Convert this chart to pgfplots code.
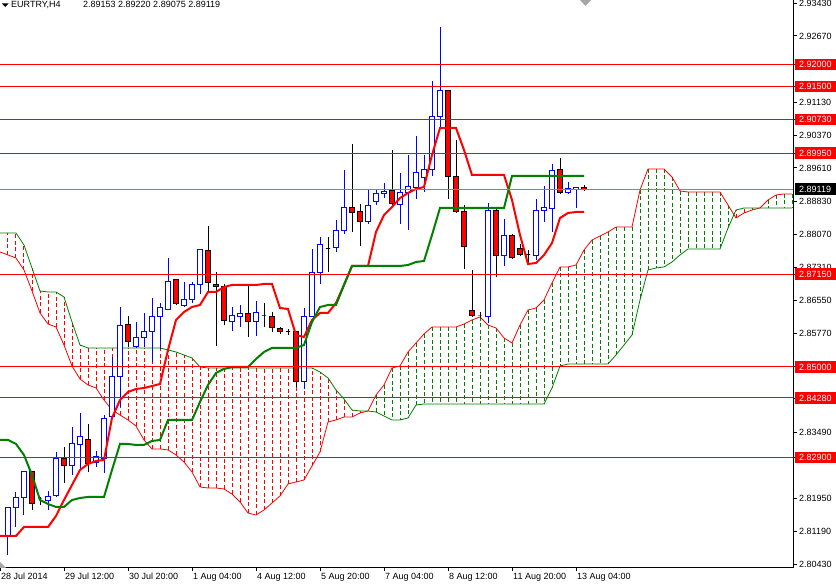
\documentclass[border=0pt]{standalone}
\usepackage{fontspec}
\setmainfont{Liberation Sans}
\usepackage{pgfplots}
\usepackage{pgfplotstable}
\pgfplotsset{compat=1.18}

\definecolor{mtred}{RGB}{255,0,0}
\definecolor{mtgreen}{RGB}{0,128,0}
\definecolor{mtblue}{RGB}{0,0,255}
\definecolor{bidgray}{RGB}{119,136,153}

% EURTRY H4 candles: bar index, open, high, low, close
\pgfplotstableread{
i o h l c
0 2.81081 2.81174 2.80988 2.81081
1 2.81081 2.81753 2.80641 2.81730
2 2.81730 2.82100 2.81289 2.81961
3 2.81961 2.82587 2.81567 2.82564
4 2.82564 2.82587 2.81683 2.81822
5 2.81938 2.81985 2.81799 2.81938
6 2.81903 2.82124 2.81683 2.81985
7 2.82008 2.83027 2.81985 2.82865
8 2.82865 2.83143 2.82309 2.82703
9 2.82703 2.83606 2.82494 2.83213
10 2.83189 2.83931 2.82610 2.83375
11 2.83305 2.83676 2.82564 2.82749
12 2.82772 2.83050 2.82680 2.82911
13 2.82865 2.83884 2.82541 2.83792
14 2.83838 2.85228 2.83792 2.84765
15 2.84765 2.86387 2.84070 2.85947
16 2.85970 2.86178 2.85460 2.85576
17 2.85460 2.86039 2.85437 2.85669
18 2.85669 2.86248 2.85460 2.85808
19 2.85808 2.86595 2.85112 2.86155
20 2.86155 2.86479 2.85414 2.86364
21 2.86340 2.87522 2.86317 2.86966
22 2.87012 2.87036 2.86433 2.86456
23 2.86410 2.86966 2.86387 2.86549
24 2.86549 2.86966 2.86479 2.86897
25 2.86897 2.87731 2.86688 2.87708
26 2.87684 2.88264 2.86734 2.86943
27 2.86908 2.87198 2.85483 2.86862
28 2.86850 2.86920 2.85970 2.86062
29 2.86039 2.86387 2.85831 2.86178
30 2.86155 2.86433 2.85923 2.86225
31 2.86225 2.86873 2.85692 2.86039
32 2.86039 2.86526 2.85715 2.86248
33 2.86201 2.86479 2.85923 2.86201
34 2.86155 2.86271 2.85808 2.85900
35 2.85877 2.85923 2.85761 2.85808
36 2.85808 2.85877 2.85738 2.85808
37 2.85808 2.85831 2.84533 2.84649
38 2.84649 2.86364 2.84487 2.86155
39 2.86155 2.87731 2.86155 2.87175
40 2.87175 2.88009 2.86920 2.87823
41 2.87731 2.88009 2.87198 2.87731
42 2.87754 2.88403 2.87661 2.88148
43 2.88148 2.89561 2.88078 2.88681
44 2.88681 2.90164 2.88125 2.88565
45 2.88588 2.88773 2.87800 2.88379
46 2.88379 2.89121 2.88310 2.88727
47 2.88820 2.89121 2.88750 2.89005
48 2.89005 2.89260 2.88912 2.89051
49 2.89075 2.90025 2.88750 2.88773
50 2.88750 2.89492 2.88310 2.89028
51 2.89028 2.89909 2.88171 2.89167
52 2.89144 2.90349 2.88889 2.89492
53 2.89376 2.89909 2.89051 2.89561
54 2.89561 2.91623 2.89422 2.90789
55 2.90789 2.92874 2.90534 2.91392
56 2.91392 2.91415 2.88889 2.89399
57 2.89399 2.90256 2.88565 2.88588
58 2.88588 2.88750 2.87267 2.87777
59 2.86294 2.87244 2.86155 2.86178
60 2.86178 2.86271 2.86132 2.86178
61 2.86155 2.88797 2.86016 2.88611
62 2.88611 2.88658 2.87082 2.87569
63 2.87569 2.88426 2.87337 2.88032
64 2.88032 2.88078 2.87499 2.87522
65 2.87731 2.87847 2.87569 2.87592
66 2.87592 2.87708 2.87406 2.87592
67 2.87569 2.88889 2.87476 2.88611
68 2.88611 2.89190 2.88356 2.88681
69 2.88658 2.89700 2.88125 2.89538
70 2.89561 2.89839 2.89005 2.89028
71 2.89028 2.89283 2.89005 2.89121
72 2.89098 2.89167 2.88681 2.89144
73 2.89153 2.89220 2.89075 2.89119
}\candles

% Tenkan-sen (t) and Kijun-sen (k)
\pgfplotstableread{
i t k
0 2.81081 2.83305
1 2.81081 2.83305
2 2.81081 2.83213
3 2.81289 2.82958
4 2.81289 2.82494
5 2.81289 2.81915
6 2.81289 2.81822
7 2.81544 2.81753
8 2.81915 2.81753
9 2.82263 2.81915
10 2.82610 2.81961
11 2.82749 2.81985
12 2.82819 2.81985
13 2.82842 2.81985
14 2.83815 2.82610
15 2.84232 2.83213
16 2.84417 2.83213
17 2.84487 2.83189
18 2.84510 2.83189
19 2.84556 2.83282
20 2.84603 2.83305
21 2.85391 2.83769
22 2.86086 2.83769
23 2.86271 2.83769
24 2.86387 2.83769
25 2.86433 2.84186
26 2.86734 2.84580
27 2.86734 2.84858
28 2.86850 2.84950
29 2.86897 2.84997
30 2.86897 2.84997
31 2.86897 2.84997
32 2.86897 2.85182
33 2.86920 2.85344
34 2.86920 2.85437
35 2.86364 2.85437
36 2.86340 2.85437
37 2.85738 2.85437
38 2.85692 2.85506
39 2.86086 2.86039
40 2.86248 2.86387
41 2.86248 2.86433
42 2.86479 2.86433
43 2.86897 2.86897
44 2.87337 2.87337
45 2.87337 2.87337
46 2.87337 2.87337
47 2.88125 2.87337
48 2.88518 2.87337
49 2.88704 2.87337
50 2.88912 2.87337
51 2.89028 2.87360
52 2.89121 2.87429
53 2.89167 2.87453
54 2.89909 2.88055
55 2.90534 2.88681
56 2.90534 2.88681
57 2.90534 2.88681
58 2.90025 2.88681
59 2.89445 2.88681
60 2.89445 2.88681
61 2.89445 2.88681
62 2.89445 2.88681
63 2.89445 2.88681
64 2.88866 2.89422
65 2.88055 2.89422
66 2.87383 2.89422
67 2.87406 2.89422
68 2.87592 2.89422
69 2.87870 2.89422
70 2.88449 2.89422
71 2.88565 2.89422
72 2.88588 2.89422
73 2.88588 2.89422
}\lines

% Senkou span A (a) and B (b), already shifted forward
\pgfplotstableread{
i a b
0 2.87661 2.88101
1 2.87592 2.88101
2 2.87522 2.88101
3 2.87244 2.87823
4 2.86758 2.87290
5 2.86248 2.86758
6 2.85993 2.86734
7 2.85923 2.86734
8 2.85506 2.86619
9 2.85020 2.86039
10 2.84719 2.85506
11 2.84580 2.85437
12 2.84510 2.85437
13 2.84232 2.85437
14 2.84000 2.85437
15 2.83884 2.85437
16 2.83769 2.85437
17 2.83630 2.85437
18 2.83305 2.85437
19 2.83097 2.85437
20 2.83097 2.85437
21 2.83074 2.85391
22 2.82958 2.85344
23 2.82795 2.85275
24 2.82564 2.85205
25 2.82216 2.84997
26 2.82193 2.84973
27 2.82193 2.84973
28 2.82170 2.84973
29 2.82054 2.84973
30 2.81869 2.84973
31 2.81614 2.84973
32 2.81567 2.84973
33 2.81683 2.84973
34 2.81846 2.84973
35 2.82008 2.84973
36 2.82286 2.84973
37 2.82332 2.84973
38 2.82378 2.84973
39 2.82703 2.84973
40 2.83027 2.84881
41 2.83722 2.84742
42 2.83769 2.84464
43 2.83838 2.84255
44 2.83838 2.84000
45 2.83931 2.83977
46 2.83977 2.83977
47 2.84348 2.83954
48 2.84580 2.83861
49 2.84973 2.83769
50 2.85020 2.83769
51 2.85344 2.83815
52 2.85553 2.84116
53 2.85761 2.84139
54 2.85923 2.84139
55 2.85923 2.84139
56 2.85923 2.84139
57 2.85923 2.84139
58 2.85993 2.84139
59 2.86086 2.84139
60 2.86155 2.84139
61 2.85970 2.84139
62 2.85900 2.84139
63 2.85669 2.84139
64 2.85553 2.84139
65 2.85970 2.84139
66 2.86317 2.84139
67 2.86364 2.84139
68 2.86549 2.84139
69 2.86943 2.84510
70 2.87314 2.85020
71 2.87314 2.85066
72 2.87360 2.85066
73 2.87708 2.85066
74 2.87939 2.85066
75 2.88032 2.85066
76 2.88125 2.85066
77 2.88240 2.85275
78 2.88240 2.85506
79 2.88240 2.85738
80 2.89098 2.86549
81 2.89584 2.87244
82 2.89584 2.87290
83 2.89584 2.87314
84 2.89399 2.87429
85 2.89075 2.87592
86 2.89051 2.87731
87 2.89051 2.87731
88 2.89051 2.87731
89 2.89051 2.87731
90 2.89051 2.87731
91 2.88750 2.88217
92 2.88449 2.88634
93 2.88565 2.88681
94 2.88634 2.88681
95 2.88681 2.88681
96 2.88866 2.88681
97 2.88982 2.88681
98 2.89005 2.88681
99 2.89005 2.88681
}\cloud

\pgfplotstablegetrowsof{\candles}\pgfmathtruncatemacro\ncand{\pgfplotsretval-1}
\pgfplotstablegetrowsof{\cloud}\pgfmathtruncatemacro\ncloud{\pgfplotsretval-1}

\begin{document}
\begin{tikzpicture}[font=\fontsize{9}{10}\selectfont,
  bullwick/.style={mtblue, line width=1pt},
  bullbody/.style={draw=mtblue, fill=white, line width=1pt},
  bearwick/.style={black, line width=1pt},
  bearbody/.style={draw=black, fill=mtred, line width=1pt},
  hatchgreen/.style={mtgreen, line width=1pt, dash pattern=on 4pt off 2.5pt},
  hatchred/.style={mtred, line width=1pt, dash pattern=on 4pt off 2.5pt}]
\begin{axis}[
  scale only axis, width=793pt, height=568pt,
  xmin=0, xmax=99.125, ymin=2.80339, ymax=2.935,
  axis x line*=bottom, axis y line*=right,
  axis line style={black, line width=1pt},
  tick align=outside, major tick length=3.5pt,
  tick style={black, line width=0.8pt},
  xtick={0,8,...,72},
  xticklabels={28 Jul 2014,29 Jul 12:00,30 Jul 20:00,1 Aug 04:00,4 Aug 12:00,5 Aug 20:00,7 Aug 04:00,8 Aug 12:00,11 Aug 20:00,13 Aug 04:00},
  xticklabel style={anchor=north west, inner xsep=1pt, inner ysep=1.5pt},
  ytick={2.93430,2.92670,2.91130,2.90370,2.89610,2.88830,2.88070,2.87310,2.86550,2.85770,2.83490,2.81950,2.81190,2.80430},
  yticklabels={2.93430,2.92670,2.91130,2.90370,2.89610,2.88830,2.88070,2.87310,2.86550,2.85770,2.83490,2.81950,2.81190,2.80430},
  yticklabel style={anchor=west, inner xsep=4.5pt, inner ysep=2.5pt, text height=6.5pt, text depth=0pt, xshift=-2pt},
  extra y ticks={2.92,2.915,2.9073,2.8995,2.8715,2.85,2.8428,2.829},
  extra y tick labels={2.92000,2.91500,2.90730,2.89950,2.87150,2.85000,2.84280,2.82900},
  extra y tick style={yticklabel style={fill=mtred, text=white}},
]
\coordinate (tl) at (rel axis cs:0,1);
\coordinate (bl) at (rel axis cs:0,0);
\coordinate (bid) at (axis cs:99.125,2.89119);

% Ichimoku cloud hatching
\pgfplotsforeachungrouped \r in {0,...,\ncloud}{%
  \pgfplotstablegetelem{\r}{i}\of\cloud\let\ci\pgfplotsretval
  \pgfplotstablegetelem{\r}{a}\of\cloud\let\ca\pgfplotsretval
  \pgfplotstablegetelem{\r}{b}\of\cloud\let\cb\pgfplotsretval
  \ifdim\ca pt>\cb pt \def\hst{hatchgreen}\else\def\hst{hatchred}\fi
  \edef\temp{\noexpand\addplot[\hst] coordinates {(\ci,\ca) (\ci,\cb)};}%
  \temp
}
\addplot[mtred, line width=0.8pt] table[x=i, y=a] {\cloud};
\addplot[mtgreen, line width=0.8pt] table[x=i, y=b] {\cloud};

% candles
\pgfplotsforeachungrouped \r in {0,...,\ncand}{%
  \pgfplotstablegetelem{\r}{i}\of\candles\let\ci\pgfplotsretval
  \pgfplotstablegetelem{\r}{o}\of\candles\let\co\pgfplotsretval
  \pgfplotstablegetelem{\r}{h}\of\candles\let\ch\pgfplotsretval
  \pgfplotstablegetelem{\r}{l}\of\candles\let\cl\pgfplotsretval
  \pgfplotstablegetelem{\r}{c}\of\candles\let\cc\pgfplotsretval
  \pgfmathsetmacro\xl{\ci-0.28}%
  \pgfmathsetmacro\xr{\ci+0.28}%
  \ifdim\cc pt>\co pt \def\wst{bullwick}\def\bst{bullbody}\else\def\wst{bearwick}\def\bst{bearbody}\fi
  \edef\temp{\noexpand\addplot[\wst] coordinates {(\ci,\cl) (\ci,\ch)};%
    \noexpand\addplot[\bst] coordinates {(\xl,\co) (\xr,\co) (\xr,\cc) (\xl,\cc)} -- cycle;}%
  \temp
}

% tenkan and kijun
\addplot[mtred, line width=2pt] table[x=i, y=t] {\lines};
\addplot[mtgreen, line width=2pt] table[x=i, y=k] {\lines};

% horizontal levels and bid line
\pgfplotsinvokeforeach{2.92,2.915,2.9073,2.8995,2.8715,2.85,2.8428,2.829}{
  \addplot[mtred, line width=1pt] coordinates {(0,#1) (99.125,#1)};
}
\addplot[bidgray, line width=1pt] coordinates {(0,2.89119) (99.125,2.89119)};
\end{axis}

\node[fill=black, text=white, anchor=west, inner xsep=4.5pt, inner ysep=2.5pt, text height=6.5pt, text depth=0pt, xshift=1.5pt] at (bid) {2.89119};
\fill[shift={(tl)}] (2pt,-3.5pt) -- (8.5pt,-3.5pt) -- (5.25pt,-7pt) -- cycle;
\node[anchor=base west, inner sep=0pt] at ([shift={(11pt,-8pt)}]tl) {EURTRY,H4};
\node[anchor=base west, inner sep=0pt] at ([shift={(83pt,-8pt)}]tl) {2.89153 2.89220 2.89075 2.89119};
\fill[gray!70, shift={(tl)}] (580pt,0pt) -- (591pt,0pt) -- (585.5pt,-6pt) -- cycle;
\fill[gray!70, shift={(bl)}] (0pt,0pt) -- (0pt,6pt) -- (6pt,0pt) -- cycle;

\pgfresetboundingbox
\path[use as bounding box] (tl) rectangle ([shift={(836pt,-585pt)}]tl);
\end{tikzpicture}
\end{document}
